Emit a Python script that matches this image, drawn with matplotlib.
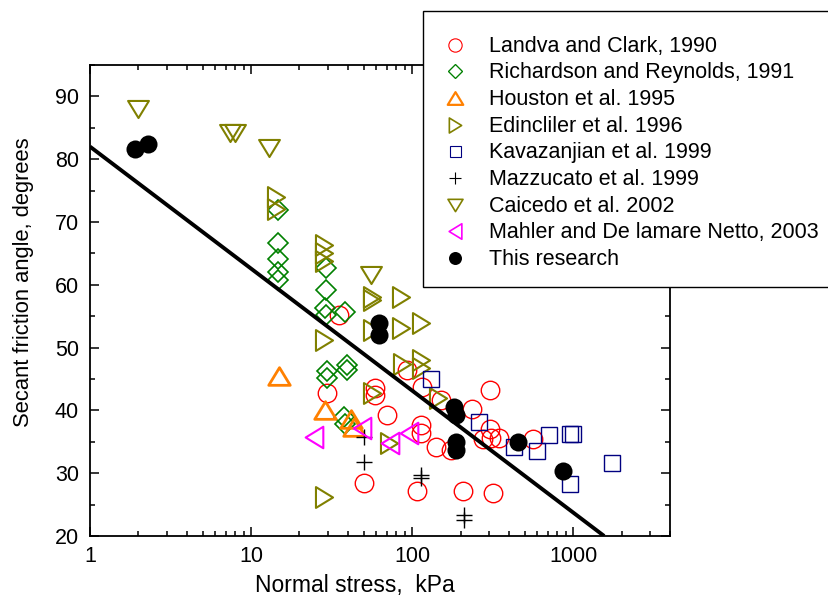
import numpy as np
import matplotlib
matplotlib.use("Agg")
import matplotlib.pyplot as plt
from matplotlib.path import Path
from matplotlib.lines import Line2D
from matplotlib.patches import Rectangle
from matplotlib.ticker import LogLocator, NullFormatter, MultipleLocator, FixedLocator, FixedFormatter

plt.rcParams['font.family'] = ['Liberation Sans', 'DejaVu Sans']

# ---- data: normal stress (kPa) and secant friction angle (degrees) ----
landva_stress = [35, 93.5, 59.3, 59.3, 29.7, 116, 305, 151, 235, 70, 113, 113,
                 305, 140, 174, 275, 310, 345, 561, 50, 108, 206, 320]
landva_angle = [55.2, 46.4, 43.5, 42.5, 42.7, 43.8, 43.2, 41.7, 40.3, 39.3, 37.7, 36.4,
                37.1, 34.2, 33.7, 35.4, 35.6, 35.6, 35.4, 28.5, 27.1, 27.2, 26.9]

richardson_stress = [14.7, 14.7, 14.7, 14.7, 14.7, 29.4, 29.4, 29.0, 29.4, 29.7, 29.7,
                     38.6, 39.6, 39.6, 37.7, 38.2]
richardson_angle = [71.9, 66.7, 64.1, 62.1, 60.8, 62.6, 59.2, 56.3, 55.2, 46.2, 45.1,
                    55.7, 47.2, 46.4, 39.0, 37.9]

houston_stress = [15.0, 29.0, 41.5, 43.5]
houston_angle = [45.4, 40.1, 38.7, 37.4]

edincliler_stress = [14.2, 14.2, 28.3, 28.3, 28.3, 28.3, 56.6, 56.6, 56.6, 56.6, 85, 85,
                     87, 113, 113, 113, 144, 72, 28.3]
edincliler_angle = [74.0, 72.0, 66.3, 65.0, 63.8, 51.2, 58.1, 57.6, 52.8, 42.7, 58.1, 53.1,
                    47.4, 53.9, 48.0, 46.7, 41.9, 34.8, 26.2]

kavazanjian_stress = [130.5, 261, 431, 596, 705, 961, 994, 961, 1746]
kavazanjian_angle = [45.0, 38.2, 34.2, 33.6, 36.1, 36.2, 36.2, 28.3, 31.7]

mazzucato_stress = [50, 50, 113, 113, 210, 210]
mazzucato_angle = [35.7, 31.8, 29.7, 29.2, 23.3, 22.5]

caicedo_stress = [2.0, 7.43, 7.98, 13.0, 56.0]
caicedo_angle = [88.0, 84.1, 84.1, 81.8, 61.6]

mahler_stress = [24.5, 49, 73, 95.7]
mahler_angle = [35.7, 37.2, 34.8, 36.4]

research_stress = [1.91, 2.29, 62, 62, 182, 187, 187, 187, 456, 869]
research_angle = [81.6, 82.5, 53.9, 52.0, 40.5, 39.3, 34.9, 33.7, 34.9, 30.4]

# end points of the fitted trend line (straight on the semi-log axes)
fit_stress = [1, 1560]
fit_angle = [82.0, 20.0]

x_ticks = [1, 10, 100, 1000]
x_tick_labels = ['1', '10', '100', '1000']
y_ticks = [20, 30, 40, 50, 60, 70, 80, 90]


# ---- triangle marker shapes (centred on their bounding box) ----
def triangle(direction):
    h = 0.41
    base = {
        'up': [(-0.5, -h), (0.5, -h), (0.0, h)],
        'down': [(-0.5, h), (0.5, h), (0.0, -h)],
        'right': [(-h, -0.5), (-h, 0.5), (h, 0.0)],
        'left': [(h, -0.5), (h, 0.5), (-h, 0.0)],
    }[direction]
    verts = base + [base[0]]
    codes = [Path.MOVETO, Path.LINETO, Path.LINETO, Path.CLOSEPOLY]
    return Path(verts, codes)


TRI_UP = triangle('up')
TRI_DOWN = triangle('down')
TRI_RIGHT = triangle('right')
TRI_LEFT = triangle('left')

series = [
    dict(x=landva_stress, y=landva_angle, label='Landva and Clark, 1990',
         marker='o', color='#ff0000', ms=13.3, mew=1.0, filled=False),
    dict(x=richardson_stress, y=richardson_angle, label='Richardson and Reynolds, 1991',
         marker='D', color='#008000', ms=10.2, mew=1.2, filled=False),
    dict(x=houston_stress, y=houston_angle, label='Houston et al. 1995',
         marker=TRI_UP, color='#ff8000', ms=15.5, mew=2.0, filled=False),
    dict(x=edincliler_stress, y=edincliler_angle, label='Edincliler et al. 1996',
         marker=TRI_RIGHT, color='#808000', ms=15.0, mew=1.5, filled=False),
    dict(x=kavazanjian_stress, y=kavazanjian_angle, label='Kavazanjian et al. 1999',
         marker='s', color='#000080', ms=11.0, mew=1.0, filled=False),
    dict(x=mazzucato_stress, y=mazzucato_angle, label='Mazzucato et al. 1999',
         marker='+', color='#000000', ms=12.0, mew=1.0, filled=False),
    dict(x=caicedo_stress, y=caicedo_angle, label='Caicedo et al. 2002',
         marker=TRI_DOWN, color='#808000', ms=15.0, mew=1.5, filled=False),
    dict(x=mahler_stress, y=mahler_angle, label='Mahler and De lamare Netto, 2003',
         marker=TRI_LEFT, color='#ff00ff', ms=15.5, mew=1.5, filled=False),
    dict(x=research_stress, y=research_angle, label='This research',
         marker='o', color='#000000', ms=13.0, mew=0.0, filled=True),
]

W, H = 829, 599
fig = plt.figure(figsize=(W / 100, H / 100), dpi=100)
ax = fig.add_axes([90 / W, 1 - 536 / H, 580 / W, 471 / H])

for s in series:
    ax.plot(s['x'], s['y'], linestyle='none', marker=s['marker'], markersize=s['ms'],
            markeredgewidth=s['mew'], markeredgecolor=s['color'],
            markerfacecolor=s['color'] if s['filled'] else 'none', zorder=3)

ax.plot(fit_stress, fit_angle, color='black', linewidth=2.8, solid_capstyle='butt', zorder=4)

ax.set_xscale('log')
ax.set_xlim(1, 4000)
ax.set_ylim(20, 95)

ax.xaxis.set_major_locator(FixedLocator(x_ticks))
ax.xaxis.set_major_formatter(FixedFormatter(x_tick_labels))
ax.xaxis.set_minor_locator(LogLocator(base=10, subs=np.arange(2, 10)))
ax.xaxis.set_minor_formatter(NullFormatter())
ax.yaxis.set_major_locator(FixedLocator(y_ticks))
ax.yaxis.set_minor_locator(MultipleLocator(5))

ax.tick_params(which='both', direction='in', top=True, right=True, width=1.1,
               labelsize=15.5, colors='black')
ax.tick_params(which='major', length=6.5)
ax.tick_params(which='minor', length=3.6)
ax.tick_params(axis='x', which='major', pad=7)
ax.tick_params(axis='y', which='major', pad=8)
for sp in ax.spines.values():
    sp.set_linewidth(1.3)

ax.set_xlabel('Normal stress,  kPa', fontsize=16.5)
ax.set_ylabel('Secant friction angle, degrees', fontsize=15.8)
ax.xaxis.set_label_coords(0.457, -0.081)
ax.yaxis.set_label_coords(-0.097, 0.539)

# ---- legend box drawn in figure pixels ----
def fx(px):
    return px / W


def fy(py):
    return 1 - py / H


box = Rectangle((fx(423), fy(287)), fx(835) - fx(423), fy(11) - fy(287),
                transform=fig.transFigure, facecolor='white', edgecolor='black',
                linewidth=1.0, zorder=5)
fig.add_artist(box)

row_gap = 26.67
for i, s in enumerate(series):
    yc = 44.5 + i * row_gap
    fig.add_artist(Line2D([fx(455)], [fy(yc)], transform=fig.transFigure,
                          linestyle='none', marker=s['marker'], markersize=s['ms'] * 0.72,
                          markeredgewidth=max(s['mew'] * 0.8, 0.8) if not s['filled'] else 0,
                          markeredgecolor=s['color'],
                          markerfacecolor=s['color'] if s['filled'] else 'none', zorder=6))
    fig.text(fx(489), fy(51.7 + i * row_gap), s['label'], fontsize=15.5, va='baseline',
             ha='left', color='black', zorder=6)

fig.savefig('out.png', dpi=100)
